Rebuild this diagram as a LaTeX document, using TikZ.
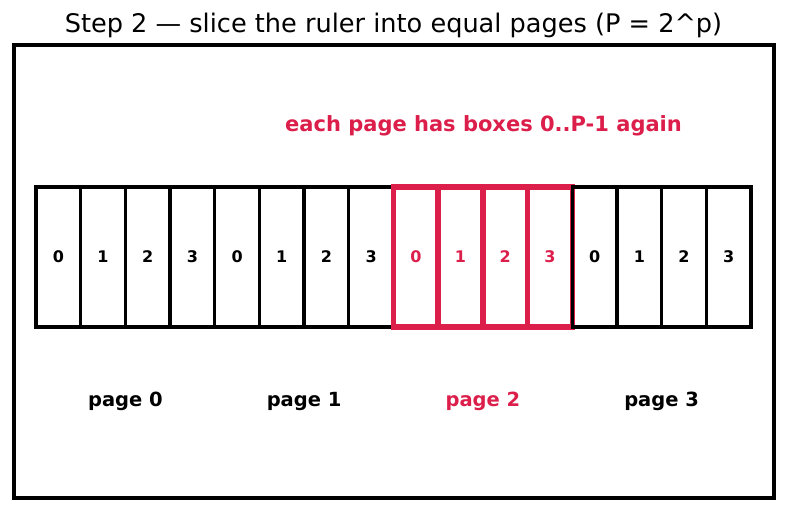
\documentclass[tikz,border=0pt]{standalone}
\usepackage{fontspec}
\setmainfont{DejaVu Sans}
\usepackage{tikz}
\usetikzlibrary{positioning}
\definecolor{pagered}{HTML}{DC1E4B}

\tikzset{
  slot/.style={draw, line width=3.3pt, minimum width=44.69pt, minimum height=140pt, inner sep=0pt,
    font=\bfseries\fontsize{16}{18}\selectfont},
  hotslot/.style={slot, draw=pagered, line width=5.5pt, text=pagered},
  pagelabel/.style={font=\bfseries\fontsize{19.5}{23}\selectfont}
}

\begin{document}
\begin{tikzpicture}[x=1pt, y=-1pt]
  \useasboundingbox (0,0) rectangle (787,512);
  \node[font=\fontsize{25.6}{30}\selectfont] (title) at (393.5,25) {Step 2 — slice the ruler into equal pages (P = 2\^{}p)};
  \draw[line width=4.5pt] (14,45) rectangle (774,498);

  \node[pagelabel, text=pagered, font=\bfseries\fontsize{21}{25}\selectfont] (note) at (483.5,126) {each page has boxes 0..P-1 again};

  % the ruler, cut into pages of four boxes
  \foreach \i in {0,...,15} {
    \pgfmathtruncatemacro{\k}{mod(\i,4)}
    \pgfmathtruncatemacro{\pg}{int(\i/4)}
    \ifnum\pg=2
      \node[hotslot] (box\i) at ({36+44.69*(\i+0.5)},257) {\k};
    \else
      \node[slot] (box\i) at ({36+44.69*(\i+0.5)},257) {\k};
    \fi
  }

  \node[pagelabel] (page0) at (125.4,401) {page 0};
  \node[pagelabel] (page1) at (304.1,401) {page 1};
  \node[pagelabel, text=pagered] (page2) at (482.9,401) {page 2};
  \node[pagelabel] (page3) at (661.6,401) {page 3};
\end{tikzpicture}
\end{document}
